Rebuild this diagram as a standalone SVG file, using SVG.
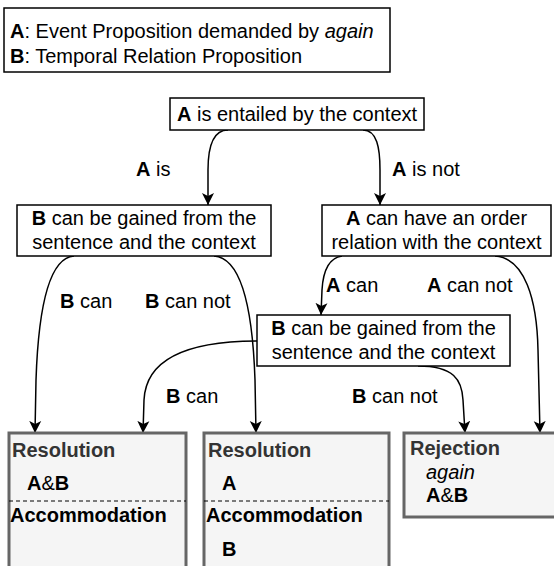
<svg xmlns="http://www.w3.org/2000/svg" width="554" height="566" viewBox="0 0 554 566">
<style>
text{font-family:"Liberation Sans",Arial,sans-serif;font-size:20px;fill:#000}
.b{font-weight:bold}
.i{font-style:italic}
.box{fill:#fff;stroke:#000;stroke-width:1.5}
.res{fill:#f5f5f5;stroke:#666;stroke-width:3}
.g{fill:#333;font-weight:bold}
.e{fill:none;stroke:#000;stroke-width:1.5;marker-end:url(#ah)}
.dash{stroke:#000;stroke-width:1;stroke-dasharray:4,3}
</style>
<defs>
<marker id="ah" markerUnits="userSpaceOnUse" markerWidth="14" markerHeight="14" refX="12" refY="6" orient="auto" viewBox="0 0 14 12">
<path d="M0,0 L12,6 L0,12 L3,6 z" fill="#000"/>
</marker>
</defs>
<g id="legend">
<rect class="box" x="4" y="8" width="386" height="64"/>
<text x="10" y="38"><tspan class="b">A</tspan>: Event Proposition demanded by <tspan class="i">again</tspan></text>
<text x="10" y="63"><tspan class="b">B</tspan>: Temporal Relation Proposition</text>
</g>
<g id="edges">
<path class="e" d="M228,130 C212,130 208,148 208,170 L208,205"/>
<path class="e" d="M363,130 C377,130 380,148 380,170 L380,205"/>
<path class="e" d="M74,256 C46,258 38,320 36,380 L35,433"/>
<path class="e" d="M214,256 C244,258 253,320 255,380 L256,433"/>
<path class="e" d="M342,256 C328,258 323,272 322,290 L321,315"/>
<path class="e" d="M495,256 C525,258 537,300 538,350 L540,433"/>
<path class="e" d="M258,341 C190,341 146,358 144,400 L143,433"/>
<path class="e" d="M418,366 C454,366 462,380 463,400 L465,433"/>
</g>
<g id="labels">
<text x="136" y="176"><tspan class="b">A</tspan> is</text>
<text x="392" y="176"><tspan class="b">A</tspan> is not</text>
<text x="60" y="308"><tspan class="b">B</tspan> can</text>
<text x="145" y="308"><tspan class="b">B</tspan> can not</text>
<text x="326" y="292"><tspan class="b">A</tspan> can</text>
<text x="427" y="292"><tspan class="b">A</tspan> can not</text>
<text x="166" y="403"><tspan class="b">B</tspan> can</text>
<text x="352" y="403"><tspan class="b">B</tspan> can not</text>
</g>
<g id="n-entailed">
<rect class="box" x="170" y="98" width="254" height="32"/>
<text x="297" y="121" text-anchor="middle"><tspan class="b">A</tspan> is entailed by the context</text>
</g>
<g id="n-b1">
<rect class="box" x="17" y="205" width="254" height="51"/>
<text x="144" y="225" text-anchor="middle"><tspan class="b">B</tspan> can be gained from the</text>
<text x="144" y="249" text-anchor="middle">sentence and the context</text>
</g>
<g id="n-order">
<rect class="box" x="322" y="205" width="229" height="51"/>
<text x="436.5" y="225" text-anchor="middle"><tspan class="b">A</tspan> can have an order</text>
<text x="436.5" y="249" text-anchor="middle">relation with the context</text>
</g>
<g id="n-b2">
<rect class="box" x="257" y="315" width="253" height="51"/>
<text x="383.5" y="335" text-anchor="middle"><tspan class="b">B</tspan> can be gained from the</text>
<text x="383.5" y="359" text-anchor="middle">sentence and the context</text>
</g>
<g id="n-res1">
<rect class="res" x="9" y="433" width="177" height="140"/>
<line class="dash" x1="9" y1="501" x2="186" y2="501"/>
<text class="g" x="12" y="457">Resolution</text>
<text x="27" y="490"><tspan class="b">A</tspan>&amp;<tspan class="b">B</tspan></text>
<text class="b" x="10" y="522">Accommodation</text>
</g>
<g id="n-res2">
<rect class="res" x="204" y="433" width="185" height="140"/>
<line class="dash" x1="204" y1="501" x2="389" y2="501"/>
<text class="g" x="208" y="457">Resolution</text>
<text class="b" x="222" y="490">A</text>
<text class="b" x="206" y="522">Accommodation</text>
<text class="b" x="222" y="556">B</text>
</g>
<g id="n-rej">
<rect class="res" x="404" y="433" width="160" height="84"/>
<text class="g" x="410" y="455">Rejection</text>
<text class="i" x="426" y="479">again</text>
<text x="426" y="502"><tspan class="b">A</tspan>&amp;<tspan class="b">B</tspan></text>
</g>
</svg>
